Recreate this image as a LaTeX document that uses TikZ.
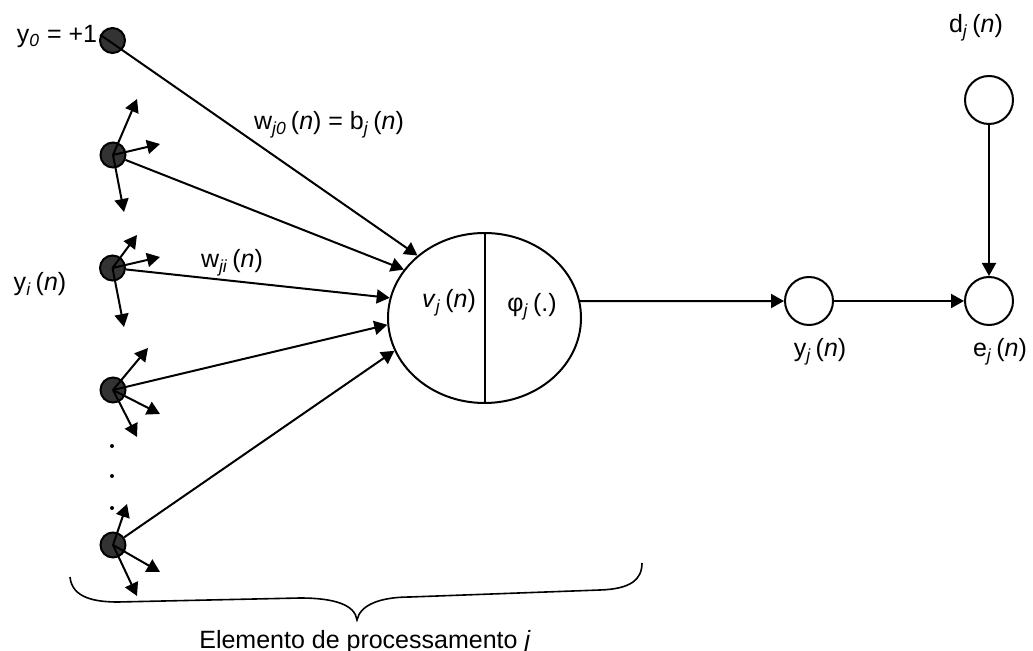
\documentclass[tikz,border=0pt]{standalone}
\usepackage{fontspec}
\setmainfont{Liberation Sans}
\usetikzlibrary{shapes.geometric,arrows.meta}
\newcommand{\sub}[1]{\textsubscript{\textit{#1}}}
\begin{document}
\begin{tikzpicture}[x=0.5pt,y=-0.5pt,line width=1pt,
  every node/.style={font=\fontsize{12.5}{15}\selectfont},
  tip/.style={-{Triangle[length=6.5pt,width=7pt]}},
  entrada/.style={circle,draw,fill=black!80,minimum size=12.5pt,inner sep=0pt},
  saida/.style={circle,draw,fill=white,minimum size=24pt,inner sep=0pt}]
\useasboundingbox (0,0) rectangle (1033,651);

% Neuronio
\node[ellipse,draw,minimum width=96.5pt,minimum height=85pt,inner sep=0pt] (pe) at (484.5,318) {};
\draw (pe.north) -- (pe.south);
\node[anchor=base] (lv) at (449,308) {\textit{v}\sub{j}\,(\textit{n})};
\node[anchor=base] (lphi) at (532,312) {φ\sub{j}\,(.)};

% Entradas
\node[entrada] (y0) at (112.5,40.5) {};
\node[entrada] (y1) at (113,155) {};
\node[entrada] (yi) at (112.5,268) {};
\node[entrada] (y3) at (113,390) {};
\node[entrada] (ym) at (113,545) {};

\foreach \n/\ax/\ay/\bx/\by/\cx/\cy in {y1/137/99/160/144/124/212,
                                       yi/137/235/160/257/124/327,
                                       y3/148/348/160/414/137/437,
                                       ym/127/504/160/572/137/596} {
  \coordinate (\n-a) at (\ax,\ay);
  \coordinate (\n-b) at (\bx,\by);
  \coordinate (\n-c) at (\cx,\cy);
  \draw[tip] (\n.center) -- (\n-a);
  \draw[tip] (\n.center) -- (\n-b);
  \draw[tip] (\n.center) -- (\n-c);
}

\draw[tip] (y0.155) -- (pe.137);
\draw[tip] (y1) -- (pe.149);
\draw[tip] (yi) -- (pe.168);
\draw[tip] (y3.center) -- (pe.184);
\draw[tip] (ym) -- (pe.200);

% Reticencias
\foreach \y in {446,476,508}
  \fill (112,\y) circle (2);

\node[anchor=base] (ly0) at (57,43) {y\sub{0} = +1};
\node[anchor=base] (lw0) at (329,130) {w\sub{j0}\,(\textit{n}) = b\sub{j}\,(\textit{n})};
\node[anchor=base] (lwi) at (232,268) {w\sub{ji}\,(\textit{n})};
\node[anchor=base] (lyi) at (40,291) {y\sub{i}\,(\textit{n})};

% Saida e erro
\node[saida] (yj) at (809,301) {};
\node[saida] (ej) at (989,301) {};
\node[saida] (dj) at (989,100) {};
\draw[tip] (pe.10) -- (yj);
\draw[tip] (yj) -- (ej);
\draw[tip] (dj) -- (ej);
\node[anchor=base] (lyj) at (820,357) {y\sub{j}\,(\textit{n})};
\node[anchor=base] (lej) at (1000,357) {e\sub{j}\,(\textit{n})};
\node[anchor=base] (ldj) at (976,33) {d\sub{j}\,(\textit{n})};

% Chave
\draw[line width=0.8pt] (70,577) .. controls (72,598) and (95,602) .. (118,602) -- (300,598)
  .. controls (335,598) and (355,605) .. (357,620) .. controls (360,605) and (380,597) .. (410,597)
  -- (600,590) .. controls (630,589) and (642,580) .. (642,563);
\node[anchor=base] (lpe) at (365,648) {Elemento de processamento \textit{j}};
\end{tikzpicture}
\end{document}
